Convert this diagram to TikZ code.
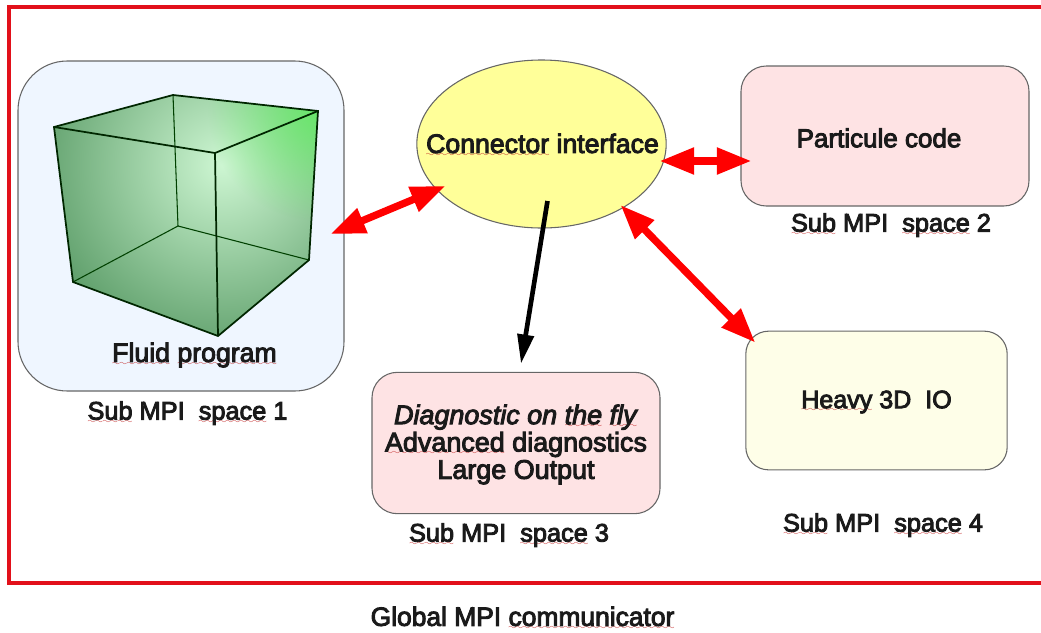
\documentclass[tikz,border=0pt]{standalone}
\usepackage{fontspec}
\usepackage{xcolor}
\usepackage{tikz}
\usetikzlibrary{shapes,arrows,arrows.meta,fadings}
\setmainfont{Liberation Sans}[FakeBold=3.5]
\definecolor{framered}{HTML}{E2101A}
\definecolor{boxedge}{HTML}{666666}
\definecolor{wavered}{HTML}{C02020}
\definecolor{paleblue}{HTML}{EFF6FF}
\definecolor{palepink}{HTML}{FEE3E4}
\definecolor{paleyellow}{HTML}{FEFEE8}
\definecolor{ifaceyellow}{HTML}{FFFF99}
\definecolor{textdark}{HTML}{1A1A1A}
\definecolor{cubelight}{HTML}{CDF6D2}
\definecolor{cubedark}{HTML}{5F9F6B}
\definecolor{cubeglow}{HTML}{60F060}
\font\wavefont=lasy6
\newcommand{\squig}[1]{\setbox0=\hbox{#1}\rlap{\color{wavered}\xleaders\hbox{\lower2.6pt\hbox{\wavefont\char58}}\hskip\wd0}#1}
\tikzfading[name=glowfade, inner color=transparent!20, outer color=transparent!100]
\tikzstyle{block} = [draw=boxedge, line width=0.8pt, rectangle, rounded corners=19pt, minimum width=216pt, minimum height=105pt, inner sep=0pt]
\tikzstyle{caption} = [text=textdark, inner sep=0pt, font=\fontsize{19}{21}\selectfont]
\tikzstyle{label1} = [text=textdark, inner sep=0pt, align=center, font=\fontsize{20}{21}\selectfont]
\tikzstyle{line1} = [line width=1.3pt, draw=black!85!green]
\tikzstyle{line2} = [line width=0.8pt, draw=green!25!black]
\tikzstyle{arrow} = [line width=5.5pt, draw=red, {Triangle[length=26pt,width=19pt]}-{Triangle[length=26pt,width=19pt]}]
\tikzstyle{arrow1} = [line width=3.5pt, draw=black, -{Triangle[length=22pt,width=12pt]}]

\begin{document}
\begin{tikzpicture}[x=0.75pt, y=-0.75pt]
\useasboundingbox (0,0) rectangle (1041,632);

% Place frame
\draw [line width=3.2pt, draw=framered] (1041,7) -- (9,7) -- (9,583) -- (1041,583);

% Place nodes
\node [block, fill=paleblue, rounded corners=37pt, minimum width=244.5pt, minimum height=247.5pt](fluid) at (181,226){};
\node [ellipse, draw=boxedge, line width=0.8pt, fill=ifaceyellow, minimum width=187pt, minimum height=126pt, inner sep=0pt](connector) at (541.5,144){};
\node [block, fill=palepink](particle) at (885,136){};
\node [block, fill=palepink, minimum height=106pt](diagnostic) at (516,443){};
\node [block, fill=paleyellow, rounded corners=17pt, minimum width=196pt, minimum height=104pt](heavy) at (876.5,400.5){};

% Place cube
\coordinate (fronttop) at (215,153);
\coordinate (leftttop) at (54,127);
\coordinate (backtop) at (173,95);
\coordinate (righttop) at (318,111);
\coordinate (frontbot) at (218,336);
\coordinate (leftbot) at (73,282);
\coordinate (backbot) at (178,226);
\coordinate (rightbot) at (309,260);
\begin{scope}
\clip (leftttop) -- (backtop) -- (righttop) -- (rightbot) -- (frontbot) -- (leftbot) -- cycle;
\shade [inner color=cubelight, outer color=cubedark] (222,165) circle (190);
\fill [color=cubeglow, path fading=glowfade] (318,111) circle (110);
\end{scope}
\draw [line2] (backtop) -- (backbot);
\draw [line2] (backbot) -- (leftbot);
\draw [line2] (backbot) -- (rightbot);
\draw [line1] (leftttop) -- (backtop) -- (righttop) -- (rightbot) -- (frontbot) -- (leftbot) -- cycle;
\draw [line1] (leftttop) -- (fronttop) -- (righttop);
\draw [line1] (fronttop) -- (frontbot);

% Place labels
\node [label1](connectorlabel) at (542.5,145){\squig{Connector} interface};
\node [label1](fluidlabel) at (194.5,355){\squig{Fluid} \squig{program}};
\node [label1, font=\fontsize{19.5}{21}\selectfont](particlelabel) at (879,138){Particule code};
\node [label1, font=\fontsize{20.2}{21}\selectfont](diagnosticlabel) at (516,444.5){\textit{Diagnostic on \squig{the} \squig{fly}}\\[-0.5pt]\squig{Advanced} diagnostics\\[-0.5pt]Large Output};
\node [label1, font=\fontsize{18.8}{21}\selectfont](heavylabel) at (876.5,402){\squig{Heavy} 3D\ \ IO};
\node [caption](space1) at (187.5,413){\squig{Sub} MPI\ \ \squig{space} 1};
\node [caption](space2) at (891,225){\squig{Sub} MPI\ \ \squig{space} 2};
\node [caption](space3) at (509,535){\squig{Sub} MPI\ \ \squig{space} 3};
\node [caption](space4) at (883,525){\squig{Sub} MPI\ \ \squig{space} 4};
\node [label1, font=\fontsize{19.8}{21}\selectfont](global) at (522.5,618){Global MPI \squig{communicator}};

% Place lines
\draw [arrow] ([shift={(-96,42)}]connector.center) -- ([shift={(-14,8)}]fluid.east);
\draw [arrow] ([shift={(118,17)}]connector.center) -- ([shift={(11,25)}]particle.west);
\draw [arrow] ([shift={(79,61)}]connector.center) -- ([shift={(10,12)}]heavy.north west);
\draw [arrow1] ([shift={(6,57)}]connector.center) -- ([shift={(5,-8)}]diagnostic.north);

\end{tikzpicture}
\end{document}
